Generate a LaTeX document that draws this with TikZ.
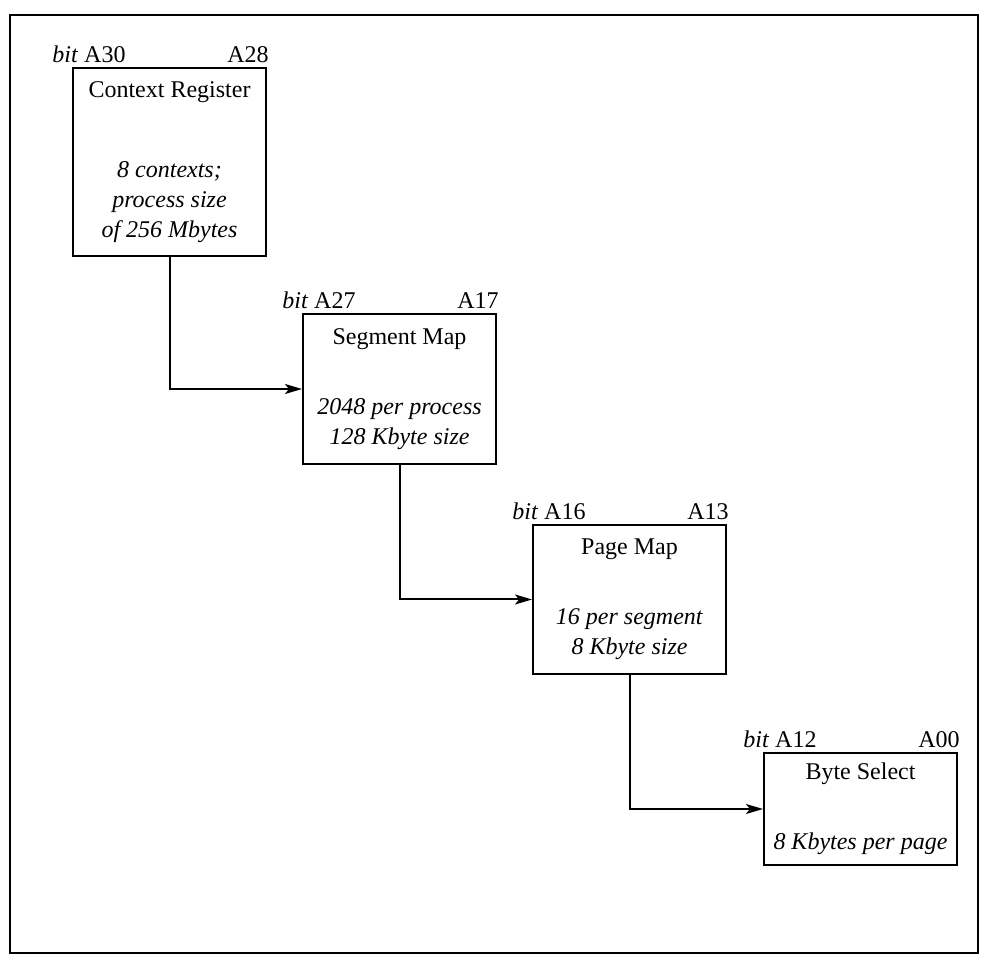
\documentclass[tikz,border=0pt]{standalone}
\usepackage{fontspec}
\setmainfont{Liberation Serif}
\usetikzlibrary{arrows.meta,positioning}

\begin{document}
\begin{tikzpicture}[x=0.5pt, y=-0.5pt,
  blk/.style={draw, line width=1pt, align=center, inner sep=2pt,
    minimum width=96.5pt, font=\fontsize{12}{15}\selectfont},
  lbl/.style={inner sep=0pt, font=\fontsize{12}{15}\selectfont},
  arr/.style={-{Stealth[length=8.5pt, width=5pt, inset=2pt]}, line width=1pt}]
\useasboundingbox (0,0) rectangle (981,956);
\draw[line width=1pt] (10,15) rectangle (978,953);
\node[blk, minimum height=94pt, anchor=north west] (ctx) at (72,67)
  {Context Register\\[25pt]\textit{8 contexts;}\\\textit{process size}\\\textit{of 256 Mbytes}};
\node[blk, minimum height=75pt, below right=28pt and 17.5pt of ctx] (seg)
  {Segment Map\\[20pt]\textit{2048 per process}\\\textit{128 Kbyte size}};
\node[blk, minimum height=74.5pt, below right=29.5pt and 17.5pt of seg] (page)
  {Page Map\\[20pt]\textit{16 per segment}\\\textit{8 Kbyte size}};
\node[blk, minimum height=56pt, below right=38.5pt and 18pt of page] (byte)
  {Byte Select\\[20pt]\textit{8 Kbytes per page}};
\node[lbl, anchor=base west] (ctxhi) at ([shift={(-10pt,2pt)}]ctx.north west) {\textit{bit} A30};
\node[lbl, anchor=base east] (ctxlo) at ([shift={(1pt,2pt)}]ctx.north east) {A28};
\node[lbl, anchor=base west] (seghi) at ([shift={(-10pt,2pt)}]seg.north west) {\textit{bit} A27};
\node[lbl, anchor=base east] (seglo) at ([shift={(1pt,2pt)}]seg.north east) {A17};
\node[lbl, anchor=base west] (pagehi) at ([shift={(-10pt,2pt)}]page.north west) {\textit{bit} A16};
\node[lbl, anchor=base east] (pagelo) at ([shift={(1pt,2pt)}]page.north east) {A13};
\node[lbl, anchor=base west] (bytehi) at ([shift={(-10pt,2pt)}]byte.north west) {\textit{bit} A12};
\node[lbl, anchor=base east] (bytelo) at ([shift={(1pt,2pt)}]byte.north east) {A00};
\draw[arr] (ctx.south) |- (seg.west);
\draw[arr] (seg.south) |- (page.west);
\draw[arr] (page.south) |- (byte.west);
\end{tikzpicture}
\end{document}
